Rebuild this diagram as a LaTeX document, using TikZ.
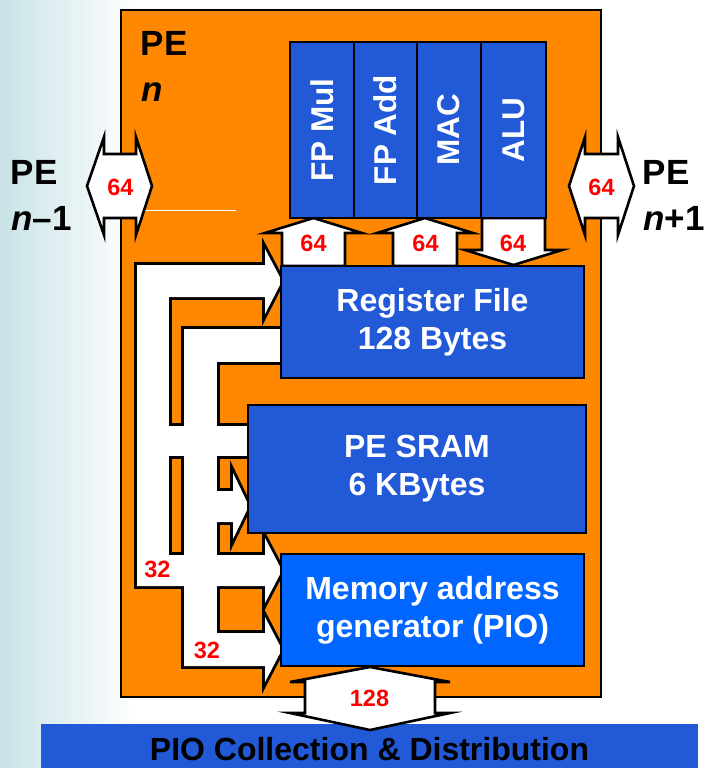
\documentclass[tikz,border=0pt]{standalone}
\usepackage{fontspec}
\setmainfont{Liberation Sans}
\usepackage{graphicx}
\definecolor{peorange}{RGB}{255,136,0}
\definecolor{blk}{RGB}{34,89,214}
\definecolor{magblue}{RGB}{0,102,255}
\definecolor{bgteal}{RGB}{200,226,230}
\definecolor{lbl}{RGB}{255,0,0}
\newcommand\busshapes[1]{%
  % bus A (outer)
  \path[#1] (137,265) rectangle (169,586);
  \path[#1] (137,265) -- (265,265) -- (265,249) -- (282,281) -- (265,314) -- (265,297) -- (137,297) -- cycle;
  \path[#1] (160,426) rectangle (250,456);
  \path[#1] (137,555) -- (265,555) -- (265,538) -- (282,570.5) -- (265,603) -- (265,586) -- (137,586) -- cycle;
  % bus B (inner)
  \path[#1] (184,329) rectangle (283,362);
  \path[#1] (184,329) rectangle (217,666);
  \path[#1] (210,491) -- (233,491) -- (233,473) -- (249,506) -- (233,539) -- (233,522) -- (210,522) -- cycle;
  \path[#1] (184,633) -- (265,633) -- (265,617) -- (282,649.5) -- (265,682) -- (265,666) -- (184,666) -- cycle;
}
\begin{document}
\begin{tikzpicture}[x=1pt,y=-1pt,
  block/.style={draw=black,line width=2.6pt,fill=blk,text=white,inner sep=0pt,align=center,
    font=\bfseries\fontsize{32}{38}\selectfont},
  fu/.style={block,font=\bfseries\fontsize{31.5}{36}\selectfont,minimum height=176pt},
  num/.style={text=lbl,inner sep=0pt,font=\bfseries\fontsize{23.5}{26}\selectfont},
  pelbl/.style={anchor=base west,inner sep=0pt,font=\bfseries\fontsize{35}{40}\selectfont},
  fatarrow/.style={draw=black,fill=white,line width=2.6pt,line join=miter},
  busline/.style={draw=black,line width=5.8pt,line join=miter},
  busfill/.style={fill=white}]
\useasboundingbox (0,0) rectangle (704,768);
% background
\fill[white] (0,0) rectangle (704,768);
\shade[left color=bgteal,right color=white] (0,0) rectangle (135,768);
% PE box
\node[draw=black,line width=2.6pt,fill=peorange,minimum width=480pt,minimum height=687pt,inner sep=0pt] (pebox) at (361,353.5) {};
\coordinate (wl1) at (145,210);
\coordinate (wl2) at (236,210);
\draw[white,line width=1pt] (wl1) -- (wl2);
% buses (union outline)
\busshapes{busline}
\busshapes{busfill}
% 64-bit arrows between register file and units
\path[fatarrow] (282,266) -- (282,233) -- (265,233) -- (313.5,218) -- (362,233) -- (345,233) -- (345,266) -- cycle;
\path[fatarrow] (393,266) -- (393,233) -- (377,233) -- (425,218) -- (473,233) -- (457,233) -- (457,266) -- cycle;
\path[fatarrow] (482,218) -- (482,250) -- (465,250) -- (513.5,265) -- (562,250) -- (545,250) -- (545,218) -- cycle;
% functional units
\node[fu,minimum width=64pt] (fpmul) at (322,130) {\rotatebox{90}{FP Mul}};
\node[fu,minimum width=63pt] (fpadd) at (385.5,130) {\rotatebox{90}{FP Add}};
\node[fu,minimum width=64pt] (mac) at (449,130) {\rotatebox{90}{MAC}};
\node[fu,minimum width=65pt] (alu) at (513.5,130) {\rotatebox{90}{ALU}};
% memory blocks
\node[block,minimum width=303pt,minimum height=112pt] (rf) at (432.5,322) {Register File\\128 Bytes};
\node[block,minimum width=338pt,minimum height=128pt] (sram) at (417,469) {PE SRAM\\6 KBytes};
\node[block,fill=magblue,minimum width=303pt,minimum height=112pt] (mag) at (432.5,610) {Memory address\\generator (PIO)};
% PIO bar
\node[fill=blk,minimum width=657pt,minimum height=44pt,inner sep=0pt] (pio) at (369.5,746) {};
\node[anchor=base,inner sep=0pt,font=\bfseries\fontsize{32}{38}\selectfont] (piotext) at (369.5,760) {PIO Collection \& Distribution};
% 128 arrow
\path[fatarrow] (370,667) -- (450,682) -- (435,682) -- (435,713) -- (450,713) -- (370,730) -- (290,713) -- (305,713) -- (305,682) -- (290,682) -- cycle;
% side arrows
\path[fatarrow] (87,186) -- (104,137) -- (104,154) -- (136,154) -- (136,137) -- (152,186) -- (136,235) -- (136,218) -- (104,218) -- (104,235) -- cycle;
\path[fatarrow] (569,186) -- (585,137) -- (585,154) -- (618,154) -- (618,137) -- (634,186) -- (618,235) -- (618,218) -- (585,218) -- (585,235) -- cycle;
% numbers
\node[num] (n64l) at (120.5,187) {64};
\node[num] (n64r) at (601.5,187) {64};
\node[num] (n64a) at (313.5,243) {64};
\node[num] (n64b) at (425.5,243) {64};
\node[num] (n64c) at (513,243) {64};
\node[num] (n32a) at (157.5,569.5) {32};
\node[num] (n32b) at (207,650) {32};
\node[num] (n128) at (369.5,698.5) {128};
% PE labels
\node[pelbl] (pen) at (140.5,56) {PE};
\node[pelbl] (pennum) at (141,101) {\textit{n}};
\node[pelbl] (pel) at (10.5,184) {PE};
\node[pelbl] (pelnum) at (11,230) {\textit{n}–1};
\node[pelbl] (per) at (642.5,184) {PE};
\node[pelbl] (pernum) at (643,230) {\textit{n}+1};
\end{tikzpicture}
\end{document}
